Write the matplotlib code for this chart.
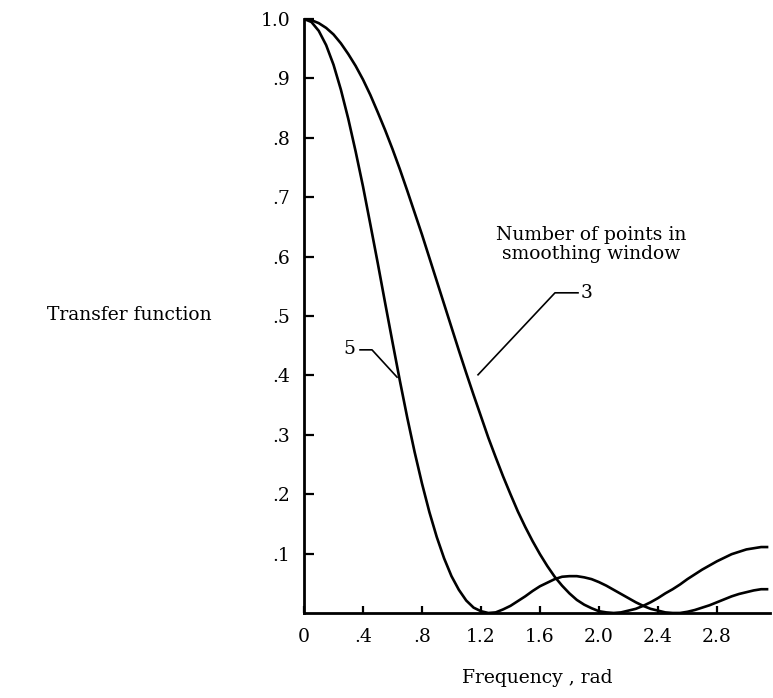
import numpy as np
import matplotlib
matplotlib.use("Agg")
import matplotlib.pyplot as plt

# ----------------- DATA -----------------
freq = [0.00, 0.05, 0.10, 0.15, 0.20, 0.25, 0.30, 0.35, 0.40, 0.45,
        0.50, 0.55, 0.60, 0.65, 0.70, 0.75, 0.80, 0.85, 0.90, 0.95,
        1.00, 1.05, 1.10, 1.15, 1.20, 1.25, 1.30, 1.35, 1.40, 1.45,
        1.50, 1.55, 1.60, 1.65, 1.70, 1.75, 1.80, 1.85, 1.90, 1.95,
        2.00, 2.05, 2.10, 2.15, 2.20, 2.25, 2.30, 2.35, 2.40, 2.45,
        2.50, 2.55, 2.60, 2.65, 2.70, 2.75, 2.80, 2.85, 2.90, 2.95,
        3.00, 3.05, 3.10, 3.14]

# 3 points in smoothing window
tf_3 = [1.000, 0.998, 0.993, 0.985, 0.974, 0.959, 0.941, 0.921, 0.898, 0.872,
        0.843, 0.813, 0.781, 0.747, 0.711, 0.674, 0.637, 0.598, 0.559, 0.520,
        0.481, 0.442, 0.404, 0.367, 0.331, 0.295, 0.262, 0.230, 0.200, 0.171,
        0.145, 0.121, 0.099, 0.079, 0.061, 0.046, 0.033, 0.022, 0.014, 0.008,
        0.003, 0.001, 0.000, 0.001, 0.004, 0.007, 0.012, 0.018, 0.025, 0.033,
        0.040, 0.048, 0.057, 0.065, 0.073, 0.080, 0.087, 0.093, 0.099, 0.103,
        0.107, 0.109, 0.111, 0.111]

# 5 points in smoothing window
tf_5 = [1.000, 0.995, 0.980, 0.956, 0.923, 0.881, 0.832, 0.777, 0.718, 0.654,
        0.589, 0.522, 0.456, 0.391, 0.329, 0.271, 0.218, 0.170, 0.128, 0.092,
        0.062, 0.039, 0.021, 0.009, 0.003, 0.000, 0.001, 0.006, 0.012, 0.020,
        0.028, 0.037, 0.045, 0.051, 0.057, 0.061, 0.062, 0.062, 0.060, 0.057,
        0.052, 0.046, 0.039, 0.032, 0.025, 0.018, 0.012, 0.007, 0.004, 0.001,
        0.000, 0.000, 0.002, 0.005, 0.009, 0.013, 0.018, 0.023, 0.028, 0.032,
        0.035, 0.038, 0.040, 0.040]

x_ticks = [0, 0.4, 0.8, 1.2, 1.6, 2.0, 2.4, 2.8]
x_labels = ["0", ".4", ".8", "1.2", "1.6", "2.0", "2.4", "2.8"]
y_ticks = [0.1, 0.2, 0.3, 0.4, 0.5, 0.6, 0.7, 0.8, 0.9, 1.0]
y_labels = [".1", ".2", ".3", ".4", ".5", ".6", ".7", ".8", ".9", "1.0"]

# ----------------- PLOT -----------------
plt.rcParams["font.family"] = ["DejaVu Serif"]
fs = 13.5

fig = plt.figure(figsize=(7.73, 6.98), dpi=100)
ax = fig.add_axes([0.3933, 0.1218, 0.6028, 0.851])

ax.plot(freq, tf_3, color="black", lw=1.9)
ax.plot(freq, tf_5, color="black", lw=1.9)

ax.set_xlim(0, 3.16)
ax.set_ylim(0, 1.0)

for side in ["top", "right"]:
    ax.spines[side].set_visible(False)
for side in ["left", "bottom"]:
    ax.spines[side].set_linewidth(2.0)

ax.set_xticks(x_ticks)
ax.set_xticklabels(x_labels)
ax.set_yticks(y_ticks)
ax.set_yticklabels(y_labels)
ax.tick_params(axis="y", direction="in", length=7, width=1.6, pad=10, labelsize=fs)
ax.tick_params(axis="x", direction="in", length=5, width=1.6, pad=11, labelsize=fs)

# curve labels with leader lines
fig.text(0.7646, 0.6497, "Number of points in\nsmoothing window", ha="center",
         va="center", fontsize=fs, linespacing=1.05)
ax.plot([1.180, 1.702, 1.858], [0.401, 0.539, 0.539], color="black", lw=1.2)
ax.text(1.875, 0.539, "3", ha="left", va="center", fontsize=fs)
ax.plot([0.631, 0.461, 0.380], [0.397, 0.443, 0.443], color="black", lw=1.2)
ax.text(0.345, 0.444, "5", ha="right", va="center", fontsize=fs)

fig.text(0.2743, 0.5487, "Transfer function", ha="right", va="center", fontsize=fs)
fig.text(0.695, 0.0287, "Frequency , rad", ha="center", va="center", fontsize=fs)

fig.savefig("out.png", dpi=100)
